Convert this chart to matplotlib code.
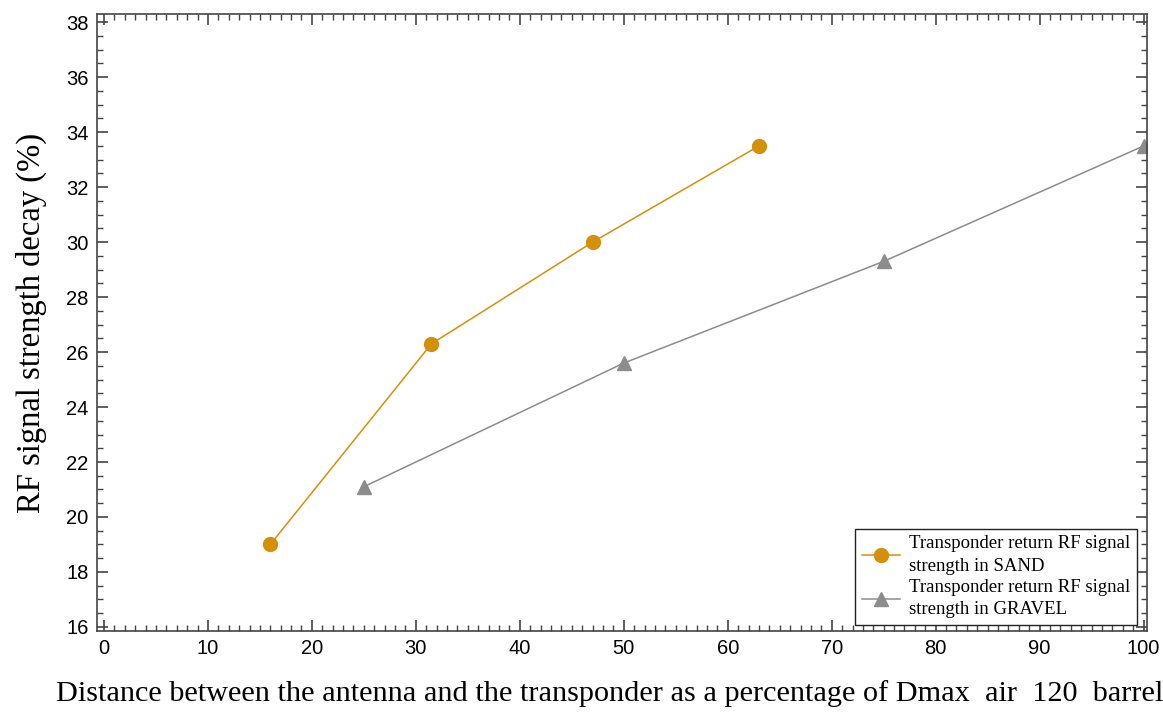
import matplotlib.pyplot as plt
from matplotlib.ticker import MultipleLocator

# === DATA ===
sand_x = [16, 31.5, 47, 63]
sand_y = [19.0, 26.3, 30.0, 33.5]
gravel_x = [25, 50, 75, 100]
gravel_y = [21.1, 25.6, 29.3, 33.5]

sand_label = "Transponder return RF signal\nstrength in SAND"
gravel_label = "Transponder return RF signal\nstrength in GRAVEL"
x_label = "Distance between the antenna and the transponder as a percentage of Dmax  air  120  barrel"
y_label = "RF signal strength decay (%)"

serif = ['Liberation Serif', 'DejaVu Serif']
sans = ['Liberation Sans', 'DejaVu Sans']

fig = plt.figure(figsize=(11.63, 7.23), dpi=100)
ax = fig.add_axes([0.0834, 0.1272, 0.9026, 0.8534])

ax.plot(sand_x, sand_y, color='#D4900A', lw=1.1, marker='o', ms=10, label=sand_label)
ax.plot(gravel_x, gravel_y, color='#8C8C8C', lw=1.1, marker='^', ms=10.5, label=gravel_label)

ax.set_xlim(-0.67, 100.3)
ax.set_ylim(15.85, 38.3)
ax.xaxis.set_major_locator(MultipleLocator(10))
ax.xaxis.set_minor_locator(MultipleLocator(1))
ax.yaxis.set_major_locator(MultipleLocator(2))
ax.yaxis.set_minor_locator(MultipleLocator(0.5))

ax.tick_params(which='both', direction='in', top=True, right=True, color='#444444')
ax.tick_params(which='major', length=8, width=1.2, labelsize=14.5, pad=6)
ax.tick_params(which='minor', length=4.5, width=1.0)
for lab in ax.get_xticklabels() + ax.get_yticklabels():
    lab.set_family(sans)
for sp in ax.spines.values():
    sp.set_color('#444444')
    sp.set_linewidth(1.2)

ax.set_ylabel(y_label, fontsize=23.5, family=serif, labelpad=14)
fig.text(0.524, 0.022, x_label, fontsize=21.8, family=serif, ha='center', va='bottom')

leg = ax.legend(loc='lower right', bbox_to_anchor=(0.9905, 0.0097), borderaxespad=0,
                prop={'family': serif, 'size': 13.5},
                fancybox=False, edgecolor='#222222', framealpha=1, handlelength=2.0,
                handletextpad=0.5, borderpad=0.35, labelspacing=0.25)
leg.get_frame().set_linewidth(1.0)
for t in leg.get_texts():
    t.set_linespacing(1.4)

plt.savefig('out.png', dpi=100)
